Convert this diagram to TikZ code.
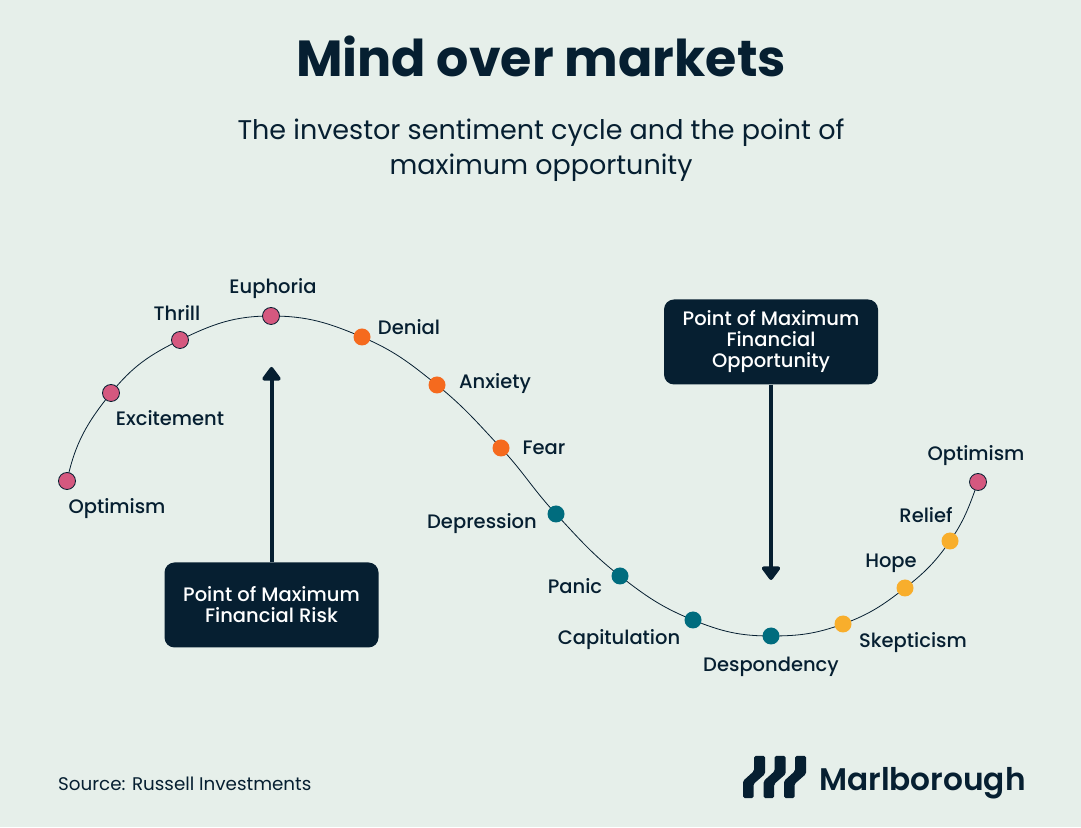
\documentclass[tikz,border=0pt]{standalone}
\usepackage{fontspec}
\setmainfont{Poppins}
\newfontfamily\mediumfont{Poppins Medium}
\newfontfamily\brandfont{Poppins SemiBold}
\usepackage{xcolor}
\usetikzlibrary{arrows.meta,positioning}
\definecolor{paper}{HTML}{E6EFEA}
\definecolor{navy}{HTML}{061F31}
\definecolor{pinkdot}{HTML}{D5587F}
\definecolor{orangedot}{HTML}{F56A1E}
\definecolor{tealdot}{HTML}{006C7E}
\definecolor{yellowdot}{HTML}{F8AE2C}

\begin{document}
\begin{tikzpicture}[
      x=1pt, y=1pt,
      every node/.style={text=navy},
      label/.style={font=\mediumfont\fontsize{19.5}{24}\selectfont, inner sep=0pt, anchor=base},
      dot/.style={circle, minimum size=17pt, inner sep=0pt},
      pinknode/.style={dot, fill=pinkdot, draw=navy, line width=0.8pt},
      orangenode/.style={dot, fill=orangedot},
      tealnode/.style={dot, fill=tealdot},
      yellownode/.style={dot, fill=yellowdot},
      callout/.style={fill=navy, text=white, rounded corners=10pt, align=center,
        font=\mediumfont\fontsize{19.5}{21}\selectfont, inner sep=0pt},
      curve/.style={draw=navy, line width=0.8pt},
      arrow/.style={-{Triangle[length=15pt, width=21pt, round]}, line width=4pt, draw=navy},
      logobar/.style={fill=navy, rounded corners=1.5pt}
    ]
    \fill[paper] (0,0) rectangle (1081,827);

    \node[font=\fontsize{50.7}{60}\selectfont\bfseries, anchor=base] (title) at (541,750) {Mind over markets};
    \node[font=\fontsize{27}{35}\selectfont, align=center, anchor=base] (subtitle) at (541,652)
      {The investor sentiment cycle and the point of\\maximum opportunity};

    \coordinate (c1) at (67,346);
    \coordinate (c2) at (111,434);
    \coordinate (c3) at (180,487);
    \coordinate (c4) at (271,511);
    \coordinate (c5) at (362,490);
    \coordinate (c6) at (437,442);
    \coordinate (c7) at (501,379);
    \coordinate (c8) at (556,313);
    \coordinate (c9) at (620,251);
    \coordinate (c10) at (693,207);
    \coordinate (c11) at (771,191);
    \coordinate (c12) at (843,203);
    \coordinate (c13) at (905,239);
    \coordinate (c14) at (950,286);
    \coordinate (c15) at (978,345);

    \draw[curve] (c1) to[out=78,in=231] (c2) to[out=51,in=206] (c3) to[out=26,in=180] (c4)
      to[out=0,in=157] (c5) to[out=-23,in=141] (c6) to[out=-39,in=133] (c7)
      to[out=-47,in=133] (c8) to[out=-47,in=142] (c9) to[out=-38,in=158] (c10)
      to[out=-22,in=180] (c11) to[out=0,in=200] (c12) to[out=20,in=218] (c13)
      to[out=38,in=235] (c14) to[out=55,in=250] (c15);

    \node[pinknode] (optimismA) at (c1) {};
    \node[pinknode] (excitement) at (c2) {};
    \node[pinknode] (thrill) at (c3) {};
    \node[pinknode] (euphoria) at (c4) {};
    \node[orangenode] (denial) at (c5) {};
    \node[orangenode] (anxiety) at (c6) {};
    \node[orangenode] (fear) at (c7) {};
    \node[tealnode] (depression) at (c8) {};
    \node[tealnode] (panic) at (c9) {};
    \node[tealnode] (capitulation) at (c10) {};
    \node[tealnode] (despondency) at (c11) {};
    \node[yellownode] (skepticism) at (c12) {};
    \node[yellownode] (hope) at (c13) {};
    \node[yellownode] (relief) at (c14) {};
    \node[pinknode] (optimismB) at (c15) {};

    \node[label] (lOptimismA) at (117,313) {Optimism};
    \node[label] (lExcitement) at (170,401) {Excitement};
    \node[label] (lThrill) at (177,506) {Thrill};
    \node[label] (lEuphoria) at (273,533) {Euphoria};
    \node[label] (lDenial) at (409,492) {Denial};
    \node[label] (lAnxiety) at (495,438) {Anxiety};
    \node[label] (lFear) at (544,372) {Fear};
    \node[label] (lDepression) at (482,298) {Depression};
    \node[label] (lPanic) at (575,233) {Panic};
    \node[label] (lCapitulation) at (619,182) {Capitulation};
    \node[label] (lDespondency) at (771,155) {Despondency};
    \node[label] (lSkepticism) at (913,179) {Skepticism};
    \node[label] (lHope) at (891,259) {Hope};
    \node[label] (lRelief) at (926,304) {Relief};
    \node[label] (lOptimismB) at (976,366) {Optimism};

    \node[callout, minimum width=214pt, minimum height=85pt] (risk) at (271.5,222)
      {Point of Maximum\\Financial Risk};
    \node[callout, minimum width=214pt, minimum height=85pt] (opportunity) at (771,485)
      {Point of Maximum\\Financial\\Opportunity};

    \draw[arrow] (risk.north) -- (271.5,460);
    \draw[arrow] (opportunity.south) -- (771,247);

    \node[font=\fontsize{18.3}{22}\selectfont, anchor=base west, inner sep=0pt] (source) at (58,37)
      {Source: Russell Investments};

    \fill[logobar] (754,71) -- (765,71) -- (765,53) -- (753.5,43) -- (753.5,29) -- (743,29) -- (743,46) -- (754,56) -- cycle;
    \fill[logobar] (774.7,71) -- (785.7,71) -- (785.7,53) -- (774.2,43) -- (774.2,29) -- (763.7,29) -- (763.7,46) -- (774.7,56) -- cycle;
    \fill[logobar] (795,71) -- (806,71) -- (806,53) -- (794.5,43) -- (794.5,29) -- (784,29) -- (784,46) -- (795,56) -- cycle;
    \node[font=\brandfont\fontsize{31.2}{40}\selectfont, anchor=base west, inner sep=0pt] (brand) at (819,37)
      {Marlborough};
  \end{tikzpicture}
\end{document}
